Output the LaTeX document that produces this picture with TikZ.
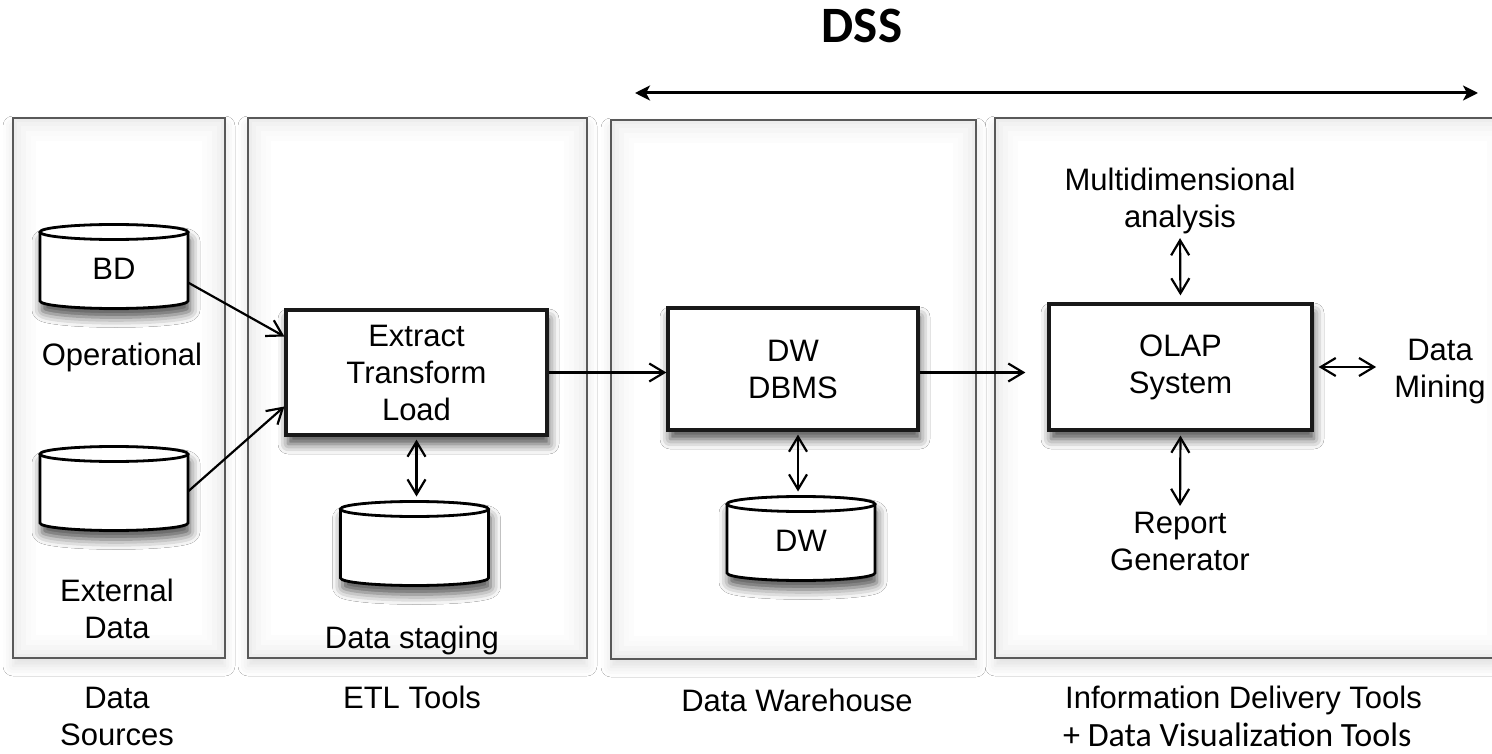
\documentclass[tikz,border=0pt]{standalone}
\usepackage{fontspec}
\setmainfont{Liberation Sans}
\newfontfamily\calibfont{Carlito}
\usetikzlibrary{arrows.meta,shadows.blur}
\tikzset{
  openbarb/.tip={Straight Barb[length=15pt,width=18pt]},
  dsstip/.tip={Stealth[length=15pt,width=15pt,inset=4pt]},
  softshadow/.style={blur shadow={shadow xshift=2pt,shadow yshift=-9pt,shadow blur radius=10pt,shadow opacity=70}},
  panelshadow/.style={blur shadow={shadow xshift=0pt,shadow yshift=-8pt,shadow blur radius=10pt,shadow opacity=12}},
  panel/.style={draw=black!65,line width=2.8pt},
  procbox/.style={draw=black!90,line width=3.2pt,fill=white,softshadow,font=\fontsize{31}{37}\selectfont,align=center,inner sep=0pt},
  cylline/.style={draw=black,line width=2.8pt},
  lbl/.style={font=\fontsize{31}{37}\selectfont,align=center,inner sep=0pt},
  conn/.style={line width=2.2pt,-openbarb},
  dconn/.style={line width=2.2pt,openbarb-openbarb},
  dssarrow/.style={line width=3pt,dsstip-dsstip},
}
\newcommand\panelbg[4]{%
  \fill[panelshadow,black!7] (#1,#2) rectangle (#3,#4);
  \fill[black!5] ({#1+4},{#2+4}) rectangle ({#3-4},{#4-4});
  \fill[black!3.5] ({#1+8},{#2+8}) rectangle ({#3-8},{#4-8});
  \fill[black!2] ({#1+13},{#2+13}) rectangle ({#3-13},{#4-13});
  \fill[black!1] ({#1+18},{#2+18}) rectangle ({#3-18},{#4-18});
  \fill[white] ({#1+23},{#2+23}) rectangle ({#3-23},{#4-23});
  \draw[panel] (#1,#2) rectangle (#3,#4);
}
\newcommand\dbcyl[4]{%
  \node[minimum width=148pt,minimum height=84pt,inner sep=0pt,outer sep=0pt] (#1) at (#2,#3) {};
  \path[fill=white,softshadow] ([yshift=-7.5pt]#1.north west) -- ([yshift=7.5pt]#1.south west)
     arc[start angle=180,end angle=360,x radius=74pt,y radius=7.5pt] -- ([yshift=-7.5pt]#1.north east)
     arc[start angle=0,end angle=180,x radius=74pt,y radius=7.5pt] -- cycle;
  \draw[cylline] ([yshift=-7.5pt]#1.north west) -- ([yshift=7.5pt]#1.south west)
     arc[start angle=180,end angle=360,x radius=74pt,y radius=7.5pt] -- ([yshift=-7.5pt]#1.north east);
  \draw[cylline] ([yshift=-7.5pt]#1.north) ellipse [x radius=74pt,y radius=7.5pt];
  \node[lbl] (#1txt) at ([yshift=-2pt]#1.center) {#4};
}
\begin{document}
\begin{tikzpicture}[x=1pt,y=-1pt]
\useasboundingbox (0,0) rectangle (1492,754);
\fill[white] (0,0) rectangle (1492,754);

% panels
\panelbg{13}{118}{225}{658}
\panelbg{248}{118}{587}{658}
\panelbg{611}{120}{976}{659}
\panelbg{995}{118}{1510}{658}

% DSS
\node[font=\calibfont\bfseries\fontsize{51}{60}\selectfont,inner sep=0pt] (dss) at (862,26) {DSS};
\coordinate (dssL) at (635,93);
\coordinate (dssR) at (1478,93);
\draw[dssarrow] (dssL) -- (dssR);

% data sources
\dbcyl{bd}{114}{266.5}{BD}
\node[lbl] (oper) at (122,357) {Operational};
\dbcyl{ext}{114}{488.5}{}
\node[lbl] (extl) at (117,608.5) {External\\Data};
\node[lbl] (srcl) at (117,716) {Data\\Sources};

% ETL
\node[procbox,minimum width=261pt,minimum height=125pt] (etl) at (416.5,372.5) {Extract\\Transform\\Load};
\dbcyl{stg}{414.5}{543.5}{}
\node[lbl] (stgl) at (412,640) {Data staging};
\node[lbl] (etll) at (412,697) {ETL Tools};

% DW
\node[procbox,minimum width=250pt,minimum height=122pt] (dbms) at (793,369) {DW\\DBMS};
\dbcyl{dwc}{801}{538.5}{DW}
\node[lbl] (dwl) at (797,700) {Data Warehouse};

% OLAP
\node[procbox,minimum width=263pt,minimum height=126pt] (olap) at (1180.5,367) {OLAP\\System};
\node[lbl] (multi) at (1180,201) {Multidimensional\\analysis};
\node[lbl] (report) at (1180,541.5) {Report\\Generator};
\node[lbl] (mining) at (1440,372) {Data\\Mining};
\node[lbl,anchor=base west] (idt) at (1065,708) {Information Delivery Tools};
\node[font=\calibfont\fontsize{34}{40}\selectfont,inner sep=0pt,anchor=base west] (dvt) at (1063,746) {+ Data Visualization Tools};

% connectors
\draw[conn] ([yshift=-16pt]bd.east) -- ([yshift=36pt]etl.west);
\draw[conn] ([yshift=-3pt]ext.east) -- ([yshift=-34pt]etl.west);
\draw[dconn,shorten <=3pt,shorten >=5pt] (etl.south) -- (etl.south |- stg.north);
\draw[conn] (etl.east) -- (etl.east -| dbms.west);
\draw[dconn,shorten <=3pt,shorten >=5pt] ([xshift=5pt]dbms.south) -- ([xshift=5pt]dbms.south |- dwc.north);
\draw[conn] (dbms.east |- etl.east) -- ([xshift=-22pt]olap.west |- etl.east);
\draw[dconn,shorten <=4pt,shorten >=7pt] (multi.south) -- (olap.north);
\draw[dconn,shorten <=4pt,shorten >=6pt] (olap.south) -- (report.north);
\draw[dconn,shorten <=5pt,shorten >=18pt] (olap.east) -- (olap.east -| mining.west);
\end{tikzpicture}
\end{document}
